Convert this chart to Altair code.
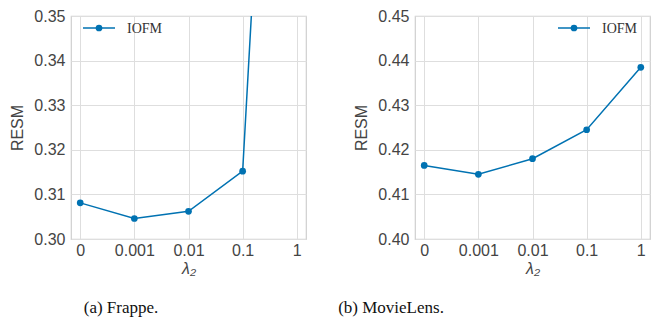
import altair as alt
import pandas as pd

lambdas = ["0", "0.001", "0.01", "0.1", "1"]
frappe_resm = [0.3081, 0.3046, 0.3062, 0.3152, 0.532]
movielens_resm = [0.4165, 0.4145, 0.4180, 0.4245, 0.4385]
series_name = "IOFM"
captions = ["(a)  Frappe.", "(b)  MovieLens."]

BLUE = "#0072B2"
W, H = 235, 223
LEG_Y = 12


def panel(values, ydomain, yticks, legend_x, caption, caption_x):
    df = pd.DataFrame({"lam": lambdas, "resm": values})
    x = alt.X("lam:N", sort=lambdas,
              scale=alt.Scale(type="point", padding=0.17),
              axis=alt.Axis(title="λ₂", labelAngle=0))
    y = alt.Y("resm:Q", scale=alt.Scale(domain=ydomain, nice=False, zero=False),
              axis=alt.Axis(title="RESM", values=yticks, format=".2f"))
    line = alt.Chart(df).mark_line(color=BLUE, strokeWidth=1.5, clip=True).encode(x=x, y=y)
    pts = alt.Chart(df).mark_point(color=BLUE, filled=True, opacity=1, size=45, clip=True).encode(x=x, y=y)
    leg = pd.DataFrame({"name": [series_name]})
    leg_line = alt.Chart(leg).mark_rule(color=BLUE, strokeWidth=1.5).encode(
        x=alt.value(legend_x), x2=alt.value(legend_x + 32), y=alt.value(LEG_Y))
    leg_pt = alt.Chart(leg).mark_point(color=BLUE, filled=True, opacity=1, size=45).encode(
        x=alt.value(legend_x + 16), y=alt.value(LEG_Y))
    leg_txt = alt.Chart(leg).mark_text(align="left", baseline="middle", font="Liberation Serif",
                                       fontSize=14, color="#333").encode(
        x=alt.value(legend_x + 44), y=alt.value(LEG_Y + 0.5), text="name:N")
    cap = alt.Chart(pd.DataFrame({"c": [caption]})).mark_text(
        align="center", baseline="middle", font="Liberation Serif", fontSize=17, color="#111").encode(
        x=alt.value(caption_x), y=alt.value(292), text="c:N")
    return alt.layer(line, pts, leg_line, leg_pt, leg_txt, cap).properties(width=W, height=H)


left = panel(frappe_resm, [0.30, 0.35], [0.30, 0.31, 0.32, 0.33, 0.34, 0.35], 12, captions[0], 50)
right = panel(movielens_resm, [0.40, 0.45], [0.40, 0.41, 0.42, 0.43, 0.44, 0.45], 143, captions[1], -24)

chart = alt.hconcat(left, right, spacing=109, bounds="flush").resolve_scale(y="independent").properties(
    padding={"left": 1, "top": -1, "right": 0, "bottom": 0},
    background="white",
).configure_view(stroke="#cfcfcf", strokeWidth=1.2).configure_axis(
    grid=True, gridColor="#dedede", gridWidth=1, domain=False, ticks=False,
    labelFont="Liberation Sans", labelFontSize=16, labelColor="#444",
    titleFont="Liberation Sans", titleFontSize=16, titleColor="#444", titleFontWeight="normal",
).configure_axisY(labelPadding=6, titlePadding=8).configure_axisX(labelPadding=3, titlePadding=2,
                                                                  titleFontStyle="italic")

chart.save("out.html", embed_options={"renderer": "svg", "actions": False})
